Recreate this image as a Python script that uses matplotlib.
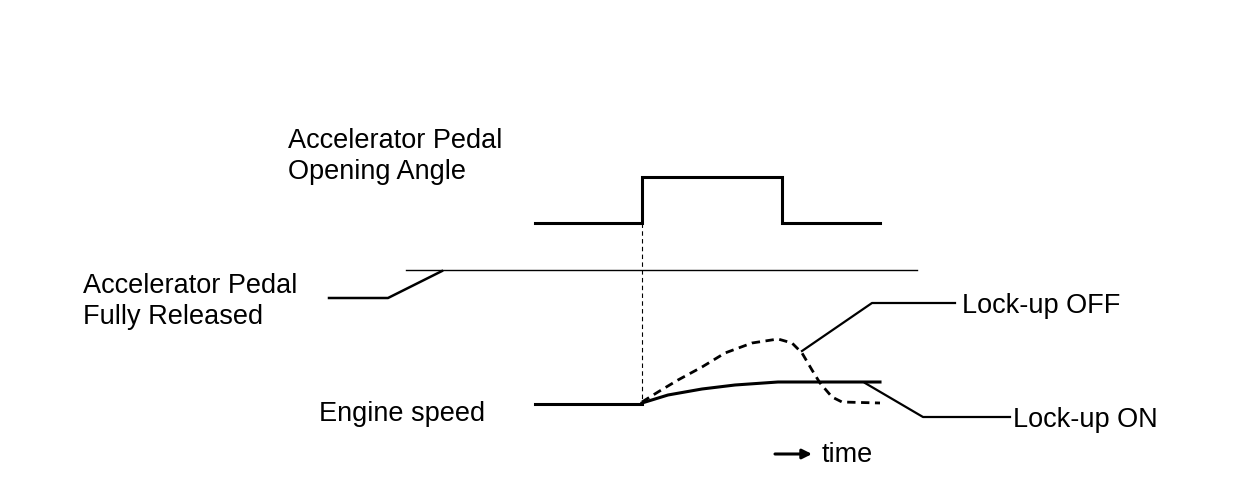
import matplotlib
matplotlib.use('Agg')
import matplotlib.pyplot as plt

plt.rcParams['font.family'] = ['Liberation Sans', 'DejaVu Sans']

# traces (x = time, y = level, screen-like units, y grows downward)
pedal_t = [535, 642, 642, 782, 782, 880]
pedal_y = [223, 223, 177, 177, 223, 223]

released_t = [329, 388, 442]
released_y = [298, 298, 271]
threshold_t = [406, 917]
threshold_y = [270, 270]

step_t = [642, 642]
step_y = [223, 404]

speed_idle_t = [535, 642]
speed_idle_y = [404, 404]
lockup_on_t = [642, 668, 702, 735, 778, 880]
lockup_on_y = [403, 395, 389, 385, 382, 382]
lockup_off_t = [642, 658, 678, 702, 725, 752, 778, 792, 802, 812, 820, 832, 842, 880]
lockup_off_y = [402, 392, 380, 367, 353, 343, 339, 343, 353, 370, 383, 397, 402, 403]

off_leader_t = [802, 872, 955]
off_leader_y = [351, 303, 303]
on_leader_t = [865, 923, 1010]
on_leader_y = [383, 417, 417]

# labels: (x, baseline, text)
labels = [
    (288, 148, 'Accelerator Pedal'),
    (288, 179, 'Opening Angle'),
    (83, 293, 'Accelerator Pedal'),
    (83, 324, 'Fully Released'),
    (319, 421, 'Engine speed'),
    (962, 313, 'Lock-up OFF'),
    (1013, 427, 'Lock-up ON'),
    (822, 462, 'time'),
]

fig = plt.figure(figsize=(12.48, 4.78), dpi=100)
ax = fig.add_axes([0, 0, 1, 1])
ax.set_xlim(0, 1248)
ax.set_ylim(478, 0)
ax.axis('off')

k = 'black'
ax.plot(pedal_t, pedal_y, color=k, lw=2.2, solid_joinstyle='miter')
ax.plot(released_t, released_y, color=k, lw=1.8)
ax.plot(threshold_t, threshold_y, color=k, lw=1.0)
ax.plot(step_t, step_y, color=k, lw=0.8, dashes=(4, 3))
ax.plot(speed_idle_t, speed_idle_y, color=k, lw=2.2)
ax.plot(lockup_on_t, lockup_on_y, color=k, lw=2.2)
ax.plot(lockup_off_t, lockup_off_y, color=k, lw=2.0, dashes=(3, 2))
ax.plot(off_leader_t, off_leader_y, color=k, lw=1.6)
ax.plot(on_leader_t, on_leader_y, color=k, lw=1.6)

for x, y, s in labels:
    ax.text(x, y, s, fontsize=19.5, va='baseline', color=k)

ax.annotate('', xy=(812, 454), xytext=(775, 454),
            arrowprops=dict(arrowstyle='-|>', color=k, lw=2.2,
                            mutation_scale=14, shrinkA=0, shrinkB=0))

fig.savefig('out.png', dpi=100)
